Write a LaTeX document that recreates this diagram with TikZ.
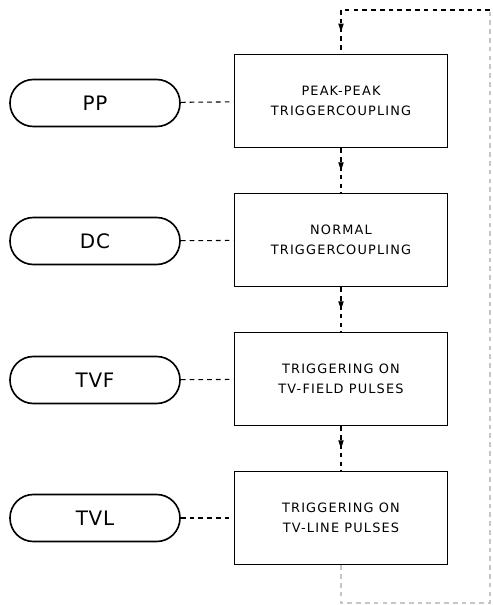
\documentclass[tikz,border=0pt]{standalone}
\usepackage{fontspec}
\setmainfont{DejaVu Sans}
\usepackage{tikz}
\usetikzlibrary{arrows.meta,decorations.markings}

\tikzset{
  stage/.style={draw,line width=1.6pt,minimum width=6.39cm,minimum height=2.79cm,align=center,font=\fontsize{11}{17}\selectfont\addfontfeature{LetterSpace=9}},
  modekey/.style={draw,line width=1.4pt,rounded corners=0.7cm,minimum width=5.1cm,minimum height=1.41cm,font=\fontsize{17}{17}\selectfont\addfontfeature{LetterSpace=4}},
  link/.style={dashed,dash pattern=on 4pt off 3.5pt,line width=0.9pt},
  midarrow/.style={link,postaction={decorate},decoration={markings,mark=at position 0.5 with {\arrow{Triangle[length=7pt,width=4.5pt]}}}}
}

\begin{document}
\begin{tikzpicture}[x=0.03cm,y=-0.03cm]
\useasboundingbox (0,0) rectangle (492,605);
\node[stage] (b1) at (341,101) {PEAK-PEAK\\TRIGGERCOUPLING};
\node[stage] (b2) at (341,240) {NORMAL\\TRIGGERCOUPLING};
\node[stage] (b3) at (341,379) {TRIGGERING ON\\TV-FIELD PULSES};
\node[stage] (b4) at (341,518) {TRIGGERING ON\\TV-LINE PULSES};
\node[modekey] (pp) at (95,103) {PP};
\node[modekey] (dc) at (95,241) {DC};
\node[modekey] (tvf) at (95,380) {TVF};
\node[modekey] (tvl) at (95,518) {TVL};
\coordinate (lb) at (341,603);
\coordinate (rb) at (490,603);
\coordinate (rt) at (490,10);
\coordinate (lt) at (341,10);
% feedback loop round the right side
\draw[link,gray!45] (b4.south) -- (lb) -- (rb) -- (rt);
\draw[link] (rt) -- (lt);
\draw[midarrow] (lt) -- (b1.north);
\draw[midarrow] (b1) -- (b2); \draw[midarrow] (b2) -- (b3); \draw[midarrow] (b3) -- (b4);
\draw[link] (pp) -- (b1); \draw[link] (dc) -- (b2); \draw[link] (tvf) -- (b3); \draw[link] (tvl) -- (b4);
\end{tikzpicture}
\end{document}
